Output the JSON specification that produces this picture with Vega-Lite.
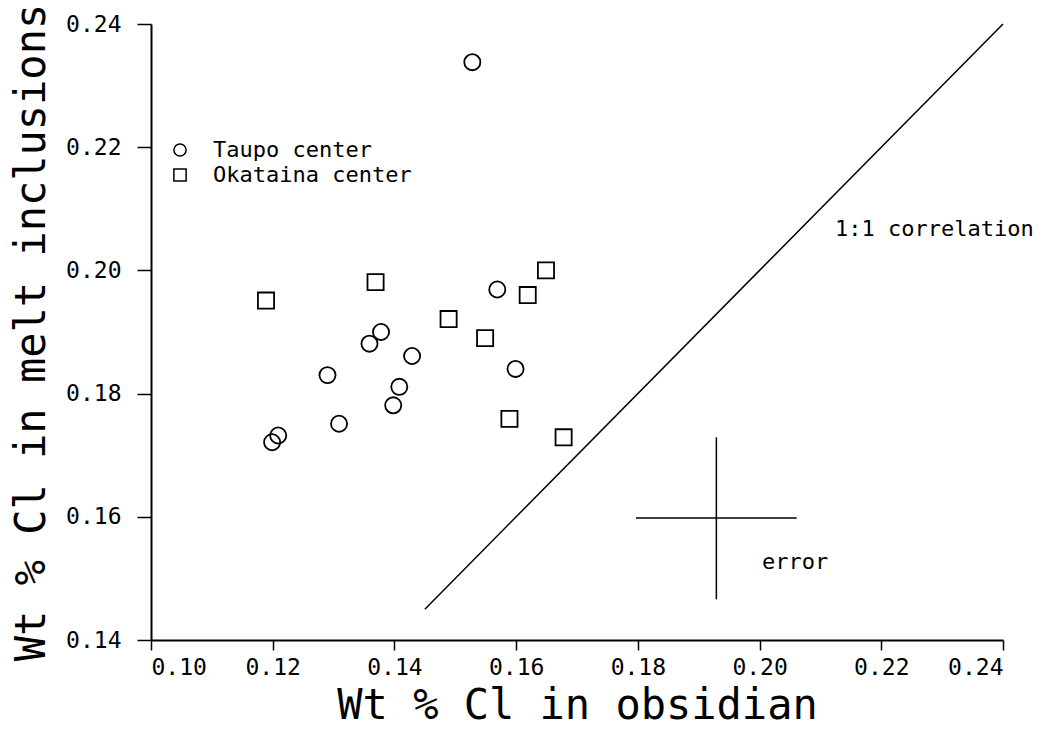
{
  "$schema": "https://vega.github.io/schema/vega-lite/v6.json",
  "width": 852,
  "height": 616,
  "autosize": "none",
  "padding": {"left": 151, "top": 24, "right": 43, "bottom": 91},
  "background": "white",
  "config": {
    "view": {"stroke": null},
    "font": "DejaVu Sans Mono",
    "axis": {
      "grid": false,
      "domainColor": "black",
      "domainWidth": 2,
      "tickColor": "black",
      "tickWidth": 1.5,
      "labelColor": "black",
      "titleColor": "black",
      "labelFont": "DejaVu Sans Mono",
      "titleFont": "DejaVu Sans Mono",
      "labelFontSize": 23,
      "titleFontSize": 42,
      "titleFontWeight": "normal"
    }
  },
  "datasets": {
    "points": [
      {"obsidian": 0.1528, "melt": 0.2338, "center": "Taupo center"},
      {"obsidian": 0.1569, "melt": 0.1969, "center": "Taupo center"},
      {"obsidian": 0.1378, "melt": 0.1900, "center": "Taupo center"},
      {"obsidian": 0.1359, "melt": 0.1881, "center": "Taupo center"},
      {"obsidian": 0.1429, "melt": 0.1861, "center": "Taupo center"},
      {"obsidian": 0.1290, "melt": 0.1830, "center": "Taupo center"},
      {"obsidian": 0.1408, "melt": 0.1811, "center": "Taupo center"},
      {"obsidian": 0.1398, "melt": 0.1781, "center": "Taupo center"},
      {"obsidian": 0.1599, "melt": 0.1840, "center": "Taupo center"},
      {"obsidian": 0.1309, "melt": 0.1751, "center": "Taupo center"},
      {"obsidian": 0.1209, "melt": 0.1732, "center": "Taupo center"},
      {"obsidian": 0.1199, "melt": 0.1721, "center": "Taupo center"},
      {"obsidian": 0.1189, "melt": 0.1951, "center": "Okataina center"},
      {"obsidian": 0.1369, "melt": 0.1981, "center": "Okataina center"},
      {"obsidian": 0.1489, "melt": 0.1921, "center": "Okataina center"},
      {"obsidian": 0.1549, "melt": 0.1890, "center": "Okataina center"},
      {"obsidian": 0.1649, "melt": 0.2000, "center": "Okataina center"},
      {"obsidian": 0.1619, "melt": 0.1960, "center": "Okataina center"},
      {"obsidian": 0.1589, "melt": 0.1759, "center": "Okataina center"},
      {"obsidian": 0.1678, "melt": 0.1729, "center": "Okataina center"}
    ],
    "lines": [
      {"x": 0.145, "y": 0.145, "x2": 0.24, "y2": 0.24},
      {"x": 0.1797, "y": 0.1598, "x2": 0.2061, "y2": 0.1598},
      {"x": 0.1929, "y": 0.1466, "x2": 0.1929, "y2": 0.1729}
    ],
    "labels": [
      {"x": 0.2124, "y": 0.2067, "text": "1:1 correlation"},
      {"x": 0.2004, "y": 0.1527, "text": "error"}
    ]
  },
  "layer": [
    {
      "data": {"name": "lines"},
      "mark": {"type": "rule", "color": "black", "strokeWidth": 1.5},
      "encoding": {
        "x": {"field": "x", "type": "quantitative"},
        "y": {"field": "y", "type": "quantitative"},
        "x2": {"field": "x2"},
        "y2": {"field": "y2"}
      }
    },
    {
      "data": {"name": "labels"},
      "mark": {"type": "text", "align": "left", "baseline": "middle", "fontSize": 22, "font": "DejaVu Sans Mono", "color": "black"},
      "encoding": {
        "x": {"field": "x", "type": "quantitative"},
        "y": {"field": "y", "type": "quantitative"},
        "text": {"field": "text"}
      }
    },
    {
      "data": {"name": "points"},
      "mark": {"type": "point", "filled": false, "color": "black", "strokeWidth": 1.8, "opacity": 1, "size": 260},
      "encoding": {
        "x": {
          "field": "obsidian", "type": "quantitative",
          "scale": {"domain": [0.10, 0.24], "nice": false, "zero": false},
          "axis": {"values": [0.10, 0.12, 0.14, 0.16, 0.18, 0.20, 0.22, 0.24], "format": ".2f", "title": "Wt % Cl in obsidian", "tickSize": 10, "labelPadding": 6, "titlePadding": 6}
        },
        "y": {
          "field": "melt", "type": "quantitative",
          "scale": {"domain": [0.14, 0.24], "nice": false, "zero": false},
          "axis": {"values": [0.14, 0.16, 0.18, 0.20, 0.22, 0.24], "format": ".2f", "title": "Wt % Cl in melt inclusions", "tickSize": 14, "labelPadding": 16, "titlePadding": 12}
        },
        "shape": {
          "field": "center", "type": "nominal",
          "scale": {"domain": ["Taupo center", "Okataina center"], "range": ["circle", "square"]},
          "legend": {
            "title": null, "orient": "none", "legendX": 18, "legendY": 115,
            "padding": 0, "labelFontSize": 22, "labelFont": "DejaVu Sans Mono", "labelColor": "black", "labelLimit": 0,
            "symbolSize": 150, "symbolStrokeWidth": 1.5, "symbolStrokeColor": "black", "symbolFillColor": "transparent",
            "rowPadding": 3, "labelOffset": 22
          }
        }
      }
    }
  ]
}
